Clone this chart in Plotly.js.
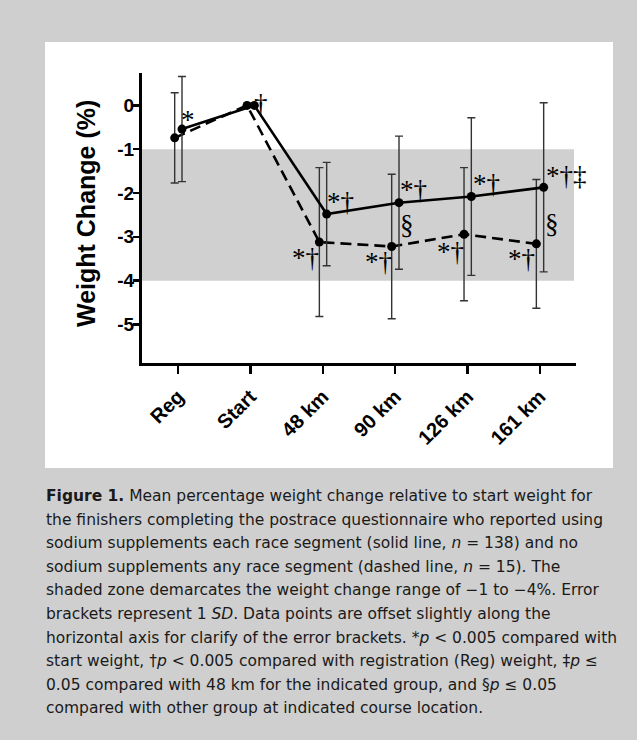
<!DOCTYPE html>
<html>
<head>
<meta charset="utf-8">
<script src="https://cdn.plot.ly/plotly-3.0.1.min.js"></script>
<style>html,body{margin:0;padding:0;background:#cfcfcf;}#chart{width:637px;height:740px;}</style>
</head>
<body>
<div id="chart"></div>
<script>
// ---- data ----
const categories = ["Reg", "Start", "48 km", "90 km", "126 km", "161 km"];
// solid line: sodium supplements each race segment (n = 138)
const solidMean = [-0.54, 0, -2.48, -2.22, -2.08, -1.87];
const solidSD   = [1.20, null, 1.18, 1.52, 1.80, 1.93];
// dashed line: no sodium supplements any race segment (n = 15)
const dashedMean = [-0.74, 0, -3.12, -3.22, -2.94, -3.16];
const dashedSD   = [1.03, null, 1.70, 1.65, 1.52, 1.47];
const yTickVals = [0, -1, -2, -3, -4, -5];
const yTickText = ["0", "-1", "-2", "-3", "-4", "-5"];
const shadedZone = [-1, -4];
// significance markers: text, position along the category axis, y position
const sigText = ["*", "\u2020", "*\u2020", "*\u2020", "*\u2020", "\u00a7", "*\u2020", "*\u2020", "*\u2020", "*\u2020\u2021", "\u00a7", "*\u2020"];
const sigX = [0.14, 1.15, 2.24, 1.76, 3.25, 3.17, 2.77, 4.26, 3.76, 5.37, 5.17, 4.74];
const sigY = [-0.33, 0.03, -2.20, -3.48, -1.93, -2.73, -3.58, -1.80, -3.34, -1.62, -2.70, -3.51];
const captionLines = [
  "<b>Figure 1.</b> Mean percentage weight change relative to start weight for",
  "the finishers completing the postrace questionnaire who reported using",
  "sodium supplements each race segment (solid line, <i>n</i> = 138) and no",
  "sodium supplements any race segment (dashed line, <i>n</i> = 15). The",
  "shaded zone demarcates the weight change range of \u22121 to \u22124%. Error",
  "brackets represent 1 <i>SD</i>. Data points are offset slightly along the",
  "horizontal axis for clarify of the error brackets. *<i>p</i> &lt; 0.005 compared with",
  "start weight, \u2020<i>p</i> &lt; 0.005 compared with registration (Reg) weight, \u2021<i>p</i> \u2264",
  "0.05 compared with 48 km for the indicated group, and \u00a7<i>p</i> \u2264 0.05",
  "compared with other group at indicated course location."
];

// ---- geometry (pixels) ----
const W = 637, H = 740;
const L = 142, R = 576, T = 73, B = 363;
const px2paperX = p => (p - L) / (R - L);
const px2paperY = p => (B - p) / (B - T);

const errStyle = {type: "data", visible: true, color: "#333", thickness: 1.4, width: 4};

const traces = [
  {
    x: categories, y: solidMean, xaxis: "x3", yaxis: "y",
    mode: "lines+markers", type: "scatter", cliponaxis: false,
    line: {color: "#000", width: 2.6},
    marker: {color: "#000", size: 9},
    error_y: Object.assign({array: solidSD}, errStyle),
    hoverinfo: "x+y", showlegend: false
  },
  {
    x: categories, y: dashedMean, xaxis: "x2", yaxis: "y",
    mode: "lines+markers", type: "scatter", cliponaxis: false,
    line: {color: "#000", width: 2.6, dash: "11px,6px"},
    marker: {color: "#000", size: 9},
    error_y: Object.assign({array: dashedSD}, errStyle),
    hoverinfo: "x+y", showlegend: false
  }
];

const annotations = [];
for (let i = 0; i < sigText.length; i++) {
  annotations.push({
    text: sigText[i], x: sigX[i], y: sigY[i], xref: "x", yref: "y",
    showarrow: false, xanchor: "center", yanchor: "middle",
    font: {family: "Liberation Serif, Times New Roman, serif", size: 27, color: "#000"}
  });
}
annotations.push({
  text: "<b>Weight Change (%)</b>", textangle: -90,
  x: px2paperX(86), y: px2paperY(214), xref: "paper", yref: "paper",
  showarrow: false, xanchor: "center", yanchor: "middle",
  font: {family: "Liberation Sans, Arial, sans-serif", size: 25, color: "#000"}
});
captionLines.forEach((t, k) => {
  annotations.push({
    text: t, x: px2paperX(44), y: px2paperY(496 + 23.6 * k),
    xref: "paper", yref: "paper", showarrow: false,
    xanchor: "left", yanchor: "middle", align: "left",
    font: {family: "DejaVu Sans, Liberation Sans, sans-serif", size: 15.5, color: "#1a1a1a"}
  });
});

const layout = {
  width: W, height: H,
  margin: {l: L, r: W - R, t: T, b: H - B, pad: 0},
  paper_bgcolor: "#cfcfcf",
  plot_bgcolor: "rgba(0,0,0,0)",
  showlegend: false,
  font: {family: "Liberation Sans, Arial, sans-serif", color: "#000"},
  xaxis: {
    type: "category", categoryarray: categories, categoryorder: "array",
    range: [-0.5, 5.5], showgrid: false, zeroline: false,
    showline: true, linecolor: "#000", linewidth: 3,
    ticks: "outside", ticklen: 8, tickwidth: 2.5, tickcolor: "#000",
    tickangle: -45, ticklabelstandoff: 3,
    tickfont: {family: "Liberation Sans, Arial, sans-serif", size: 20, weight: "bold", color: "#000"},
    fixedrange: true
  },
  xaxis2: {
    type: "category", categoryarray: categories, categoryorder: "array",
    overlaying: "x", anchor: "y", visible: false,
    range: [-0.452, 5.548], fixedrange: true
  },
  xaxis3: {
    type: "category", categoryarray: categories, categoryorder: "array",
    overlaying: "x", anchor: "y", visible: false,
    range: [-0.553, 5.447], fixedrange: true
  },
  yaxis: {
    range: [-5.88, 0.74], showgrid: false, zeroline: false,
    showline: true, linecolor: "#000", linewidth: 3,
    ticks: "outside", ticklen: 6, tickwidth: 2.5, tickcolor: "#000",
    tickvals: yTickVals, ticktext: yTickText, ticklabelstandoff: -5,
    tickfont: {family: "Liberation Sans, Arial, sans-serif", size: 19, weight: "bold", color: "#000"},
    fixedrange: true
  },
  shapes: [
    {type: "rect", xref: "paper", yref: "paper", layer: "below",
     x0: px2paperX(45), x1: px2paperX(613), y0: px2paperY(468), y1: px2paperY(42),
     fillcolor: "#ffffff", line: {width: 0}},
    {type: "rect", xref: "paper", yref: "y", layer: "below",
     x0: 0, x1: px2paperX(574), y0: shadedZone[0], y1: shadedZone[1],
     fillcolor: "#d0d0d0", line: {width: 0}}
  ],
  annotations: annotations
};

Plotly.newPlot("chart", traces, layout, {displayModeBar: false, staticPlot: true});
</script>
</body>
</html>
